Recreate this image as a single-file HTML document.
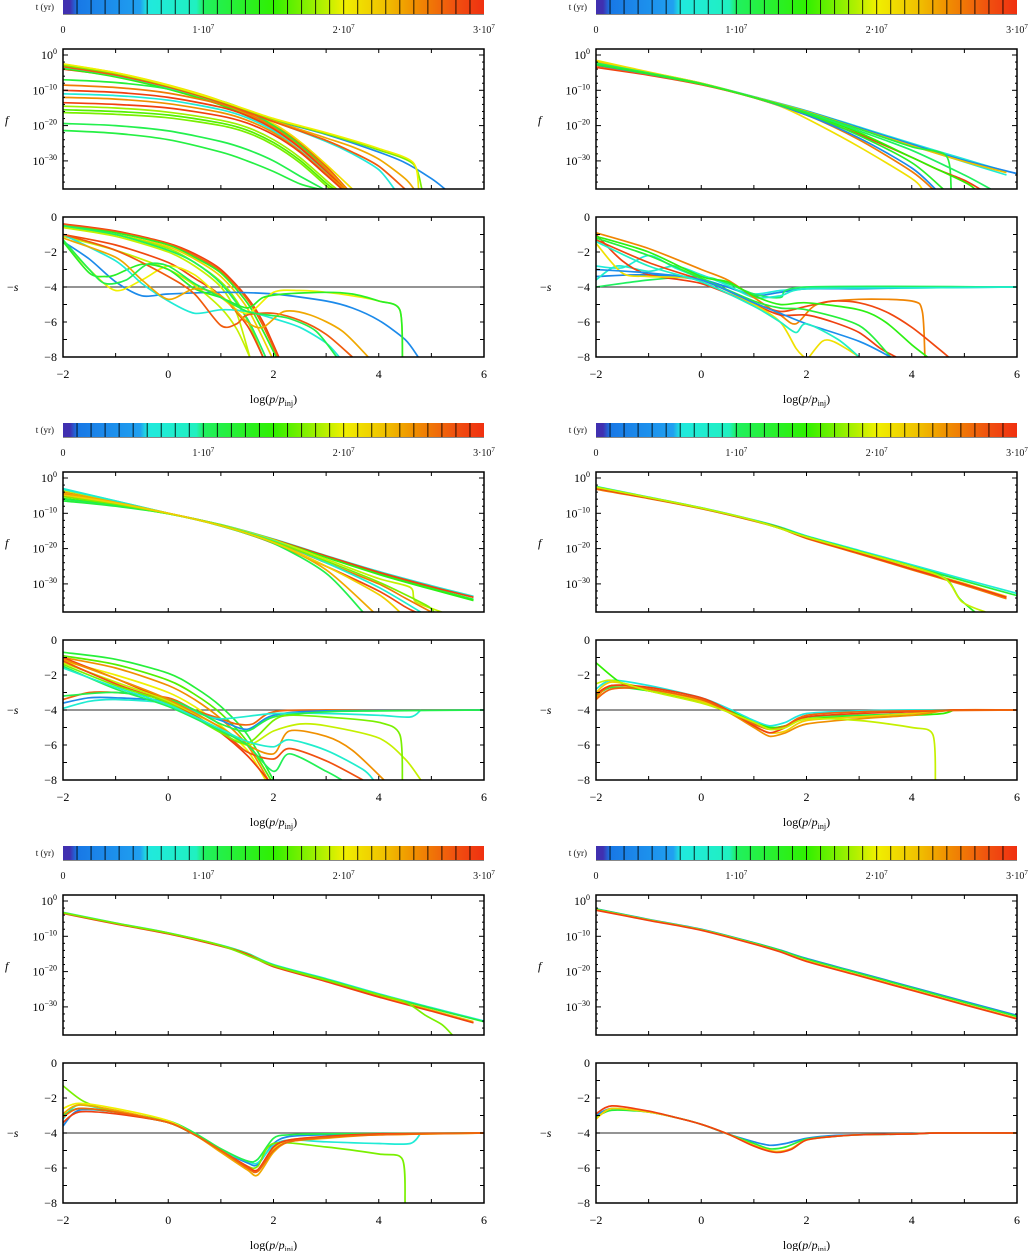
<!DOCTYPE html>
<html><head><meta charset="utf-8">
<style>
html,body{margin:0;padding:0;background:#fff;}
svg{display:block;font-family:"Liberation Serif",serif;}
</style></head>
<body>
<svg id="fig" width="1033" height="1251" viewBox="0 0 1033 1251" xmlns="http://www.w3.org/2000/svg"></svg>
<script>
// ---------- data ----------
const snapshotTimes = [0.1,0.2,0.3,0.4,0.5,0.6,0.7,0.8,0.9,1.0,1.1,1.2,1.3,1.4,1.5,1.6,1.7,1.8,1.9,2.0,2.1,2.2,2.3,2.4,2.5,2.6,2.7,2.8,2.9];
const colorbarTicks = [0,1,2,3];
const colorbarTickLabels = ["0","1·10","2·10","3·10"];
const xTicks = [-2,0,2,4,6];
const fTickExps = [0,-10,-20,-30];
const sTicks = [0,-2,-4,-6,-8];

// Panel A (top-left)
const fA = [
 [2.9,[[-2,-4],[-1,-6],[0,-9.5],[1,-14],[2,-20.5],[2.5,-25.5],[3,-32],[3.35,-38]]],
 [2.7,[[-2,-3.2],[-1,-5.6],[0,-9],[1,-13.5],[2,-20],[2.5,-25],[3,-31.5],[3.4,-38]]],
 [2.4,[[-2,-3.6],[-1,-5.9],[0,-9.3],[1,-13.8],[2,-20.3],[2.5,-25.5],[3,-32.2],[3.38,-38]]],
 [2.1,[[-2,-2.6],[-1,-5],[0,-8.5],[1,-13],[2,-19.5],[2.5,-24.5],[3,-31],[3.5,-38]]],
 [1.4,[[-2,-3.8],[-1,-6.2],[0,-9.7],[1,-14.2],[2,-20.7],[2.5,-26],[3,-32.5],[3.3,-38]]],
 [1.2,[[-2,-7],[-1,-7.8],[0,-9.6],[1,-13],[1.5,-15.8],[2,-20],[2.5,-25.5],[3,-32.5],[3.3,-38]]],
 [2.6,[[-2,-8.5],[-1,-9.2],[0,-10.8],[1,-13.9],[1.5,-16.5],[2,-20.5],[2.5,-26],[3,-32.5],[3.35,-38]]],
 [2.9,[[-2,-10],[-1,-10.6],[0,-12],[1,-14.8],[1.5,-17.2],[2,-21],[2.5,-26.3],[3,-33],[3.35,-38]]],
 [0.7,[[-2,-11],[-1,-11.5],[0,-12.8],[1,-15.5],[1.5,-17.8],[2,-21.5],[2.5,-27],[3,-33.5],[3.3,-38]]],
 [2.5,[[-2,-12],[-1,-12.5],[0,-13.8],[1,-16.3],[1.5,-18.5],[2,-22],[2.5,-27.2],[3,-33.6],[3.35,-38]]],
 [2.9,[[-2,-13.5],[-1,-14],[0,-15],[1,-17.3],[1.5,-19.3],[2,-22.6],[2.5,-27.5],[3,-34],[3.3,-38]]],
 [1.8,[[-2,-14.5],[-1,-15],[0,-16.2],[1,-18.5],[1.5,-20.5],[2,-24],[2.5,-29],[3,-35.5],[3.2,-38]]],
 [1.6,[[-2,-15.5],[-1,-16],[0,-17],[1,-19.3],[1.5,-21.3],[2,-24.8],[2.5,-29.8],[3,-36.3],[3.15,-38]]],
 [1.7,[[-2,-16.3],[-1,-16.8],[0,-17.8],[1,-20],[1.5,-22],[2,-25.5],[2.5,-30.5],[3,-37],[3.1,-38]]],
 [1.1,[[-2,-19.4],[-1,-20],[0,-21.5],[1,-24.5],[1.5,-26.8],[2,-30],[2.5,-34.3],[2.95,-38]]],
 [1.15,[[-2,-21.4],[-1,-22.2],[0,-24],[1,-27.5],[1.5,-30],[2,-33],[2.5,-36.5],[2.87,-38]]],
 [0.3,[[-2,-3],[-1,-5.5],[0,-9],[1,-13.2],[2,-18.4],[3,-22.5],[4,-27.5],[4.5,-30.5],[5,-35],[5.26,-38]]],
 [0.65,[[-2,-3.4],[-1,-5.8],[0,-9.2],[1,-13.5],[2,-18.8],[3,-24.5],[3.5,-28],[4,-32.5],[4.3,-38]]],
 [2.4,[[-2,-2.8],[-1,-5.3],[0,-8.8],[1,-13.2],[2,-18.6],[3,-23.5],[3.5,-26],[4,-29.5],[4.5,-35],[4.67,-38]]],
 [2.75,[[-2,-3.3],[-1,-5.7],[0,-9.1],[1,-13.5],[2,-18.9],[3,-24.2],[3.5,-27.5],[4,-31.5],[4.5,-38]]],
 [1.7,[[-2,-2.9],[-1,-5.2],[0,-8.7],[1,-13.1],[2,-18.2],[3,-22.3],[4,-26.9],[4.65,-30.8],[4.82,-38]]],
 [2.0,[[-2,-2.5],[-1,-5],[0,-8.6],[1,-13],[2,-18],[3,-22],[4,-26.5],[4.65,-30.4],[4.76,-38]]]
];
const sA = [
 [2.9,[[-2,-0.4],[-1,-0.8],[0,-1.5],[0.5,-2.1],[1,-3],[1.5,-4.6],[1.8,-6],[2.1,-8]]],
 [2.7,[[-2,-0.45],[-1,-0.85],[0,-1.55],[0.5,-2.2],[1,-3.1],[1.5,-4.7],[1.8,-6.2],[2.08,-8]]],
 [1.3,[[-2,-0.5],[-1,-0.9],[0,-1.6],[0.5,-2.3],[1,-3.2],[1.5,-4.9],[1.8,-6.5],[2.05,-8]]],
 [2.2,[[-2,-0.6],[-1,-1],[0,-1.7],[0.5,-2.4],[1,-3.4],[1.5,-5.2],[1.97,-8]]],
 [1.8,[[-2,-0.55],[-1,-1],[0,-1.8],[0.5,-2.6],[1,-3.7],[1.3,-4.8],[1.55,-6.2],[1.8,-8]]],
 [1.9,[[-2,-0.6],[-1,-1.1],[0,-2],[0.5,-2.8],[1,-4],[1.3,-5.5],[1.55,-8]]],
 [1.0,[[-2,-0.5],[-1,-1],[0,-1.9],[0.5,-2.6],[1,-3.8],[1.5,-5.8],[1.85,-8]]],
 [2.85,[[-2,-1],[-1,-1.6],[0,-2.6],[0.5,-3.5],[1,-4.5],[1.5,-6.2],[1.8,-8]]],
 [1.9,[[-2,-1.1],[-1,-1.9],[0,-3],[0.5,-3.9],[1,-5.2],[1.3,-6.4],[1.55,-8]]],
 [0.3,[[-2,-1.4],[-1.5,-2.4],[-1,-3.7],[-0.5,-4.5],[0,-4.4],[1,-4.3],[2,-4.4],[3,-4.8],[3.5,-5.2],[4,-5.9],[4.5,-7],[4.75,-8]]],
 [2.0,[[-2,-1.4],[-1.5,-3],[-1,-4.2],[-0.5,-3.6],[0,-2.8],[0.5,-3.3],[1,-4.6],[1.5,-5.5],[2,-4.3],[2.5,-4.2],[3,-4.3],[3.5,-4.5],[4,-4.8],[4.4,-5.3],[4.45,-8]]],
 [1.3,[[-2,-1.4],[-1.5,-3.2],[-1.2,-3.4],[-1,-3.3],[-0.5,-2.7],[0,-3],[0.5,-4.1],[1,-4.6],[1.5,-5.2],[1.8,-4.6],[2.2,-4.4],[3,-4.3],[3.5,-4.4],[4,-4.8],[4.4,-5.3],[4.45,-8]]],
 [0.7,[[-2,-1],[-1,-2.5],[-0.5,-3.8],[0,-4.8],[0.5,-5.5],[1,-5.3],[1.5,-5.4],[2,-5.8],[2.5,-6.3],[3,-7.2],[3.25,-8]]],
 [2.75,[[-2,-1],[-1,-1.9],[0,-3.4],[0.5,-4.4],[1,-6.2],[1.3,-6.1],[1.5,-5.6],[2,-5.5],[2.5,-5.9],[3,-6.7],[3.5,-8]]],
 [2.4,[[-2,-1.2],[-1,-2.3],[-0.5,-3.6],[0,-4.7],[0.5,-4.1],[1,-4.5],[1.5,-6],[1.8,-6.3],[2.2,-5.4],[2.7,-5.6],[3.3,-6.5],[3.8,-8]]],
 [1.1,[[-2,-1.3],[-1.5,-3],[-1.2,-3.8],[-0.8,-3.6],[-0.4,-2.7],[0,-2.8],[0.5,-3.8],[1,-4.6],[1.5,-5.4],[1.9,-5.6],[2.3,-5.8],[2.8,-6.5],[3.2,-8]]]
];

// Panel B (top-right)
const fB = [
 [0.65,[[-2,-2],[-1,-5],[0,-8],[1,-11.8],[2,-15.8],[3,-20.4],[4,-25],[5,-29.5],[5.8,-33]]],
 [0.75,[[-2,-2.2],[-1,-5.1],[0,-8.1],[1,-11.9],[2,-16],[3,-20.8],[4,-25.6],[5,-30.3],[5.8,-34]]],
 [0.25,[[-2,-2.4],[-1,-5.2],[0,-8.1],[1,-11.9],[2,-15.9],[3,-20.6],[4,-25.3],[5,-29.9],[6,-33.6]]],
 [2.3,[[-2,-1.8],[-1,-4.9],[0,-8],[1,-11.9],[2,-16],[3,-20.9],[4,-25.7],[5,-30.2],[5.8,-33.3]]],
 [1.2,[[-2,-2.5],[-1,-5.2],[0,-8.2],[1,-12],[2,-16.2],[3,-21],[4,-26],[4.65,-28.5],[4.75,-38]]],
 [2.9,[[-2,-3.5],[-1,-5.7],[0,-8.4],[1,-12.1],[2,-17],[3,-22.5],[4,-29],[4.5,-32.5],[5,-35.5],[5.3,-38]]],
 [2.6,[[-2,-3],[-1,-5.5],[0,-8.3],[1,-12.1],[2,-17],[3,-24],[4,-33],[4.4,-38]]],
 [2.1,[[-2,-1.5],[-1,-4.8],[0,-8],[1,-12],[1.5,-14.5],[2,-18],[3,-26],[4,-35],[4.2,-38]]],
 [0.3,[[-2,-2.8],[-1,-5.4],[0,-8.2],[1,-12],[2,-17],[3,-23.5],[4,-32],[4.45,-38]]],
 [1.5,[[-2,-2.6],[-1,-5.3],[0,-8.2],[1,-12],[2,-16.5],[3,-22],[4,-29],[5,-36],[5.2,-38]]],
 [1.0,[[-2,-2.3],[-1,-5.1],[0,-8.1],[1,-12],[2,-16.3],[3,-21.5],[4,-27],[5,-34],[5.5,-38]]],
 [1.3,[[-2,-2.7],[-1,-5.3],[0,-8.2],[1,-12],[2,-16.6],[3,-22.8],[4,-30.5],[4.6,-38]]]
];
const sB = [
 [0.65,[[-2,-2.8],[-1.5,-2.9],[-1,-2.2],[-0.5,-2.9],[0,-3.5],[0.5,-4],[1,-4.4],[1.5,-4.2],[2,-4.1],[3,-4.05],[4,-4],[6,-4]]],
 [0.25,[[-2,-3.4],[-1,-3.3],[0,-3.6],[0.5,-4],[1,-4.5],[1.5,-4.3],[2,-4.1],[3,-4.1],[4,-4.05],[6,-4]]],
 [1.0,[[-2,-4],[-1,-3.6],[0,-3.4],[0.5,-3.8],[1,-4.4],[1.5,-4.6],[2,-4.0],[6,-4]]],
 [0.8,[[-2,-3.6],[-1.6,-2.8],[-1,-3.1],[-0.5,-2.8],[0,-3.3],[0.5,-3.9],[1,-4.6],[1.5,-4.5],[2,-4.1],[4,-4.05],[6,-4]]],
 [2.55,[[-2,-0.9],[-1,-1.8],[0,-3],[0.5,-3.6],[1,-4.6],[1.5,-5.6],[1.8,-6.1],[2.2,-5],[3,-4.7],[4,-4.8],[4.2,-5.4],[4.25,-8]]],
 [2.85,[[-2,-1.3],[-1,-2.6],[0,-3.6],[0.5,-4.2],[1,-4.9],[1.5,-5.4],[2,-5.1],[2.5,-4.8],[3,-4.9],[3.5,-5.4],[4,-6.3],[4.5,-7.5],[4.7,-8]]],
 [2.9,[[-2,-1],[-1.5,-2.5],[-1,-3.3],[0,-3.8],[1,-5],[1.5,-5.6],[2,-5.6],[2.5,-6],[3,-6.6],[3.4,-7.5],[3.7,-8]]],
 [2.1,[[-2,-1.5],[-1.5,-3.2],[-1,-3.4],[0,-3.6],[1,-5],[1.5,-6],[1.8,-7.5],[1.95,-8]]],
 [2.1,[[2.05,-8],[2.3,-7.1],[2.5,-7.1],[2.8,-7.6],[3,-8]]],
 [1.4,[[-2,-1.1],[-1,-2],[0,-3.4],[0.5,-3.7],[1,-4.5],[1.5,-5],[2,-4.9],[3,-5.3],[3.5,-6],[4,-7.3],[4.3,-8]]],
 [1.2,[[-2,-1.2],[-1,-2.2],[0,-3.5],[1,-4.8],[1.5,-5.2],[2,-5.3],[3,-6.2],[3.6,-8]]],
 [0.35,[[-2,-3],[-1,-3.2],[0,-3.6],[1,-4.9],[1.5,-5.5],[2,-6.1],[3,-7.1],[3.6,-8]]],
 [0.9,[[-2,-1.4],[-1,-2.8],[0,-3.7],[1,-5.1],[1.5,-6],[1.8,-6.6],[2,-6.1],[2.6,-7],[3,-8]]]
];

// Panel C (middle-left)
const fC = [
 [0.7,[[-2,-3],[-1,-6.5],[0,-10],[1,-13.2],[2,-17.3],[3,-22],[4,-26.5],[5,-30.5],[5.8,-33.5]]],
 [1.2,[[-2,-6.5],[-1,-8],[0,-10.1],[1,-13.3],[2,-17.5],[3,-22.3],[4,-27],[5,-31.2],[5.8,-34.4]]],
 [2.9,[[-2,-5],[-1,-7.2],[0,-10],[1,-13.3],[2,-17.4],[3,-22.1],[4,-26.7],[5,-30.8],[5.8,-33.8]]],
 [1.4,[[-2,-5.8],[-1,-7.7],[0,-10.1],[1,-13.3],[2,-17.6],[3,-22.5],[4,-27.3],[5,-31.5],[5.8,-34.7]]],
 [2.85,[[-2,-4.5],[-1,-7],[0,-10],[1,-13.5],[2,-18.5],[3,-25],[4,-32],[4.5,-36.5],[4.7,-38]]],
 [2.6,[[-2,-4],[-1,-6.8],[0,-10],[1,-13.4],[2,-18],[3,-24],[4,-30],[4.5,-34],[5,-38]]],
 [1.1,[[-2,-6],[-1,-7.8],[0,-10.1],[1,-13.6],[2,-18.5],[3,-27],[3.7,-38]]],
 [1.9,[[-2,-3.5],[-1,-6.6],[0,-10],[1,-13.3],[2,-17.5],[3,-23],[4,-28.5],[4.6,-31],[4.7,-35],[5.2,-38]]],
 [0.8,[[-2,-3.2],[-1,-6.5],[0,-10],[1,-13.4],[2,-17.8],[3,-24],[4,-31],[4.8,-38]]],
 [2.4,[[-2,-4.2],[-1,-6.9],[0,-10],[1,-13.5],[2,-18.2],[3,-26],[3.9,-38]]],
 [1.7,[[-2,-5.3],[-1,-7.4],[0,-10.1],[1,-13.4],[2,-18],[3,-23.5],[4,-29.5],[4.9,-36],[5.05,-38]]],
 [2.2,[[-2,-4.8],[-1,-7.1],[0,-10],[1,-13.5],[2,-18.3],[3,-25],[4,-33],[4.4,-38]]]
];
const sC = [
 [1.2,[[-2,-0.7],[-1,-1.1],[0,-1.9],[0.5,-2.7],[1,-3.8],[1.5,-5.4],[2,-8]]],
 [1.6,[[-2,-0.9],[-1,-1.4],[0,-2.3],[0.5,-3.1],[1,-4.2],[1.5,-5.8],[1.95,-8]]],
 [2.5,[[-2,-1],[-1,-1.6],[0,-2.6],[0.5,-3.4],[1,-4.5],[1.5,-6],[1.9,-8]]],
 [2.0,[[-2,-1.2],[-1,-2],[0,-3],[0.5,-3.8],[1,-4.9],[1.5,-6.3],[1.85,-8]]],
 [2.9,[[-2,-1],[-1,-2.2],[0,-3.5],[0.5,-4.3],[1,-5.3],[1.5,-6.6],[1.9,-8]]],
 [2.7,[[-2,-3.4],[-1.5,-3],[-1,-3],[0,-3.3],[0.5,-4],[1,-4.5],[1.3,-4.8],[1.6,-4.8],[2,-4.1],[3,-4],[6,-4]]],
 [0.3,[[-2,-3.6],[-1.5,-3.3],[-1,-3.3],[0,-3.5],[0.5,-4.1],[1,-4.6],[1.5,-5.1],[2,-4.3],[3,-4.05],[6,-4]]],
 [0.75,[[-2,-3.9],[-1.5,-3.5],[-1,-3.4],[0,-3.6],[0.5,-4.1],[1,-4.5],[2,-4.2],[3,-4.2],[4,-4.3],[4.6,-4.4],[4.8,-4]]],
 [1.1,[[-2,-3.2],[-1,-3],[0,-3.4],[0.5,-4],[1,-4.8],[1.5,-5.2],[2,-4.4],[3,-4.1],[4,-4.05],[6,-4]]],
 [1.9,[[-2,-1.3],[-1,-2.4],[0,-3.5],[1,-5],[1.5,-6],[2,-5.2],[2.5,-4.8],[3,-4.9],[4,-5.6],[4.5,-6.8],[4.8,-8]]],
 [2.5,[[-2,-1.1],[-1,-2.2],[0,-3.4],[1,-5],[1.5,-6],[2,-6.5],[2.3,-5.2],[3,-5.5],[3.5,-6.3],[4.1,-8]]],
 [2.8,[[-2,-1.2],[-1,-2.5],[0,-3.6],[1,-5.2],[1.5,-6.4],[2,-6.8],[2.3,-6.2],[3,-6.9],[3.7,-8]]],
 [1.7,[[-2,-1.4],[-1,-2.6],[0,-3.6],[1,-5.3],[1.5,-5.9],[2,-4.6],[2.3,-4.3],[3,-4.4],[4,-4.7],[4.4,-5.4],[4.45,-8]]],
 [1.05,[[-2,-1.5],[-1,-2.8],[0,-3.8],[1,-5.2],[1.5,-6],[2,-7.5],[2.3,-6.5],[3,-7.5],[3.3,-8]]],
 [0.8,[[-2,-1.6],[-1,-2.7],[0,-3.7],[1,-5.1],[1.5,-5.8],[2,-6.1],[2.3,-5.7],[3,-6.3],[3.7,-7.4],[3.9,-8]]]
];

// Panel D (middle-right)
const fD = [
 [0.7,[[-2,-2.4],[-1,-5.4],[0,-8.4],[1,-11.9],[1.5,-13.9],[2,-16.4],[3,-20.5],[4,-24.6],[5,-28.7],[6,-32.7]]],
 [1.2,[[-2,-2.6],[-1,-5.5],[0,-8.5],[1,-12],[1.5,-14],[2,-16.6],[3,-20.8],[4,-25],[5,-29.2],[6,-33.3]]],
 [2.3,[[-2,-2.8],[-1,-5.6],[0,-8.6],[1,-12.1],[1.5,-14.2],[2,-16.9],[3,-21.2],[4,-25.6],[5,-29.9],[5.8,-33.6]]],
 [2.6,[[-2,-3.2],[-1,-5.8],[0,-8.7],[1,-12.2],[1.5,-14.3],[2,-17.1],[3,-21.5],[4,-26],[5,-30.4],[5.8,-34.2]]],
 [2.9,[[-2,-2.9],[-1,-5.7],[0,-8.6],[1,-12.1],[1.5,-14.2],[2,-17],[3,-21.3],[4,-25.8],[5,-30.1],[5.8,-33.8]]],
 [1.3,[[-2,-2.5],[-1,-5.5],[0,-8.5],[1,-12],[2,-16.6],[3,-20.8],[4,-25],[4.65,-28.6],[4.9,-34],[5.2,-38]]],
 [1.9,[[-2,-2.6],[-1,-5.5],[0,-8.5],[1,-12],[2,-16.7],[3,-20.9],[4,-25.1],[4.65,-28.7],[4.95,-35],[5.4,-38]]]
];
const sD = [
 [0.6,[[-2,-2.8],[-1.7,-2.3],[-1,-2.6],[0,-3.3],[0.5,-3.9],[1,-4.6],[1.3,-4.9],[1.6,-4.7],[2,-4.2],[3,-4.05],[4,-4],[6,-4]]],
 [1.2,[[-2,-3.2],[-1.7,-2.7],[-1,-2.9],[0,-3.5],[0.5,-4],[1,-4.7],[1.3,-5],[1.6,-4.9],[2,-4.4],[3,-4.3],[4,-4.2],[4.8,-4],[6,-4]]],
 [1.5,[[-2,-1.3],[-1.5,-2.5],[-1,-2.9],[0,-3.5],[0.5,-4],[1,-4.7],[1.3,-5],[1.6,-4.9],[2,-4.5],[3,-4.4],[4,-4.3],[4.6,-4.2],[4.8,-4]]],
 [2.2,[[-2,-3],[-1.7,-2.4],[-1,-2.8],[0,-3.5],[0.5,-4.1],[1,-4.9],[1.3,-5.3],[1.6,-5.2],[2,-4.6],[3,-4.4],[4,-4.2],[4.8,-4],[6,-4]]],
 [2.5,[[-2,-3.3],[-1.7,-2.6],[-1,-2.8],[0,-3.4],[0.5,-4.1],[1,-5],[1.3,-5.5],[1.6,-5.3],[2,-4.8],[3,-4.5],[4,-4.3],[4.8,-4],[6,-4]]],
 [2.9,[[-2,-3.1],[-1.7,-2.6],[-1,-2.7],[0,-3.3],[0.5,-4],[1,-4.9],[1.3,-5.3],[1.6,-5],[2,-4.4],[3,-4.2],[4,-4.1],[4.8,-4],[6,-4]]],
 [2.7,[[-2,-3.4],[-1.7,-2.8],[-1,-2.8],[0,-3.4],[0.5,-4.05],[1,-4.8],[1.3,-5.1],[1.6,-4.9],[2,-4.3],[3,-4.1],[4,-4.05],[6,-4]]],
 [1.9,[[-2,-2.5],[-1.7,-2.3],[-1,-2.9],[0,-3.6],[0.5,-4.1],[1,-4.7],[1.3,-5.1],[1.6,-5],[2,-4.5],[3,-4.6],[4,-5],[4.4,-5.4],[4.45,-8]]]
];

// Panel E (bottom-left)
const fE = [
 [0.7,[[-2,-3.2],[-1,-6.2],[0,-9],[1,-12.5],[1.5,-14.8],[2,-18],[3,-22],[4,-26.3],[5,-30.2],[6,-34]]],
 [1.2,[[-2,-3.3],[-1,-6.3],[0,-9.1],[1,-12.6],[1.5,-14.9],[2,-18.2],[3,-22.2],[4,-26.5],[5,-30.4],[6,-34.2]]],
 [2.3,[[-2,-3.4],[-1,-6.4],[0,-9.2],[1,-12.7],[1.5,-15],[2,-18.4],[3,-22.6],[4,-26.9],[5,-30.9],[5.8,-34.2]]],
 [2.9,[[-2,-3.5],[-1,-6.5],[0,-9.3],[1,-12.8],[1.5,-15.1],[2,-18.6],[3,-22.8],[4,-27.2],[5,-31.2],[5.8,-34.5]]],
 [1.7,[[-2,-3.3],[-1,-6.3],[0,-9.1],[1,-12.6],[2,-18.3],[3,-22.4],[4,-26.6],[4.5,-28.6],[4.9,-32.5],[5.2,-35],[5.4,-38]]]
];
const sE = [
 [0.3,[[-2,-3.6],[-1.7,-2.7],[-1,-2.8],[0,-3.4],[0.5,-4.1],[1,-5],[1.5,-5.7],[1.7,-5.8],[2,-4.6],[2.3,-4.2],[3,-4.1],[4,-4.05],[6,-4]]],
 [0.7,[[-2,-3.2],[-1.7,-2.4],[-1,-2.8],[0,-3.4],[0.5,-4.1],[1,-5],[1.5,-5.6],[1.7,-5.7],[2,-4.7],[2.3,-4.4],[3,-4.5],[4,-4.6],[4.6,-4.6],[4.8,-4]]],
 [1.1,[[-2,-3],[-1.7,-2.6],[-1,-2.8],[0,-3.3],[0.5,-4],[1,-4.9],[1.5,-5.6],[1.7,-5.5],[2,-4.3],[2.3,-4.1],[3,-4.05],[6,-4]]],
 [1.7,[[-2,-1.3],[-1.6,-2.2],[-1,-2.8],[0,-3.4],[0.5,-4.1],[1,-5],[1.5,-5.9],[1.7,-5.9],[2,-4.6],[3,-4.8],[4,-5.2],[4.45,-5.5],[4.5,-8]]],
 [2.0,[[-2,-2.6],[-1.7,-2.3],[-1,-2.6],[0,-3.3],[0.5,-4.1],[1,-5],[1.5,-5.9],[1.7,-6.1],[2,-4.9],[2.3,-4.4],[3,-4.2],[4,-4.1],[6,-4]]],
 [2.4,[[-2,-2.9],[-1.7,-2.4],[-1,-2.7],[0,-3.4],[0.5,-4.1],[1,-5.1],[1.5,-6.1],[1.7,-6.4],[2,-5.1],[2.3,-4.5],[3,-4.3],[4,-4.1],[6,-4]]],
 [2.9,[[-2,-3.4],[-1.7,-2.8],[-1,-2.9],[0,-3.4],[0.5,-4.1],[1,-5],[1.5,-5.9],[1.7,-6.1],[2,-4.8],[2.3,-4.4],[3,-4.2],[4,-4.05],[6,-4]]],
 [2.7,[[-2,-3.1],[-1.7,-2.6],[-1,-2.8],[0,-3.4],[0.5,-4.1],[1,-5],[1.5,-6],[1.7,-6.2],[2,-5],[2.3,-4.5],[3,-4.25],[4,-4.1],[6,-4]]]
];

// Panel F (bottom-right)
const fF = [
 [0.3,[[-2,-2.2],[-1,-5.2],[0,-8],[1,-11.8],[1.5,-13.9],[2,-16.3],[3,-20.3],[4,-24.4],[5,-28.4],[6,-32.4]]],
 [1.2,[[-2,-2.3],[-1,-5.3],[0,-8.1],[1,-11.9],[1.5,-14],[2,-16.5],[3,-20.5],[4,-24.6],[5,-28.7],[6,-32.7]]],
 [2.2,[[-2,-2.5],[-1,-5.4],[0,-8.2],[1,-12.1],[1.5,-14.3],[2,-16.9],[3,-21],[4,-25.1],[5,-29.2],[6,-33.2]]],
 [2.9,[[-2,-2.6],[-1,-5.5],[0,-8.3],[1,-12.2],[1.5,-14.4],[2,-17.1],[3,-21.2],[4,-25.3],[5,-29.4],[6,-33.4]]]
];
const sF = [
 [0.3,[[-2,-3],[-1.7,-2.6],[-1,-2.8],[-0.5,-3.1],[0,-3.5],[0.5,-4.05],[1,-4.5],[1.3,-4.7],[1.6,-4.6],[2,-4.3],[2.5,-4.15],[3,-4.1],[4,-4.05],[4.5,-4],[6,-4]]],
 [1.2,[[-2,-3.1],[-1.7,-2.7],[-1,-2.8],[-0.5,-3.1],[0,-3.5],[0.5,-4.05],[1,-4.6],[1.3,-4.9],[1.6,-4.8],[2,-4.35],[2.5,-4.2],[3,-4.1],[4,-4.05],[4.5,-4],[6,-4]]],
 [2.2,[[-2,-3.2],[-1.7,-2.6],[-1,-2.8],[-0.5,-3.1],[0,-3.5],[0.5,-4.05],[1,-4.7],[1.4,-5.05],[1.7,-4.9],[2,-4.4],[2.5,-4.2],[3,-4.1],[4,-4.05],[4.5,-4],[6,-4]]],
 [2.9,[[-2,-2.9],[-1.7,-2.45],[-1,-2.75],[-0.5,-3.1],[0,-3.5],[0.5,-4.05],[1,-4.75],[1.4,-5.1],[1.7,-4.95],[2,-4.4],[2.5,-4.2],[3,-4.1],[4,-4.05],[4.5,-4],[6,-4]]]
];

const panelData = [
 {name:"a", f:fA, s:sA},
 {name:"b", f:fB, s:sB},
 {name:"c", f:fC, s:sC},
 {name:"d", f:fD, s:sD},
 {name:"e", f:fE, s:sE},
 {name:"f", f:fF, s:sF}
];

// ---------- drawing ----------
const NS = "http://www.w3.org/2000/svg";
const svg = document.getElementById("fig");
function el(tag, attrs, parent){
  const e = document.createElementNS(NS, tag);
  for (const k in attrs) e.setAttribute(k, attrs[k]);
  (parent||svg).appendChild(e);
  return e;
}
const cmapStops = [[0,[64,48,176]],[0.095,[64,48,176]],[0.1,[24,120,230]],[0.55,[32,160,240]],[0.58,[32,232,224]],[0.95,[32,240,192]],[1.0,[32,240,96]],[1.5,[48,240,0]],[1.85,[176,240,0]],[2.0,[240,240,0]],[2.3,[240,192,0]],[2.5,[240,144,0]],[2.8,[240,80,16]],[3.0,[240,48,16]]];
function cmap(t){
  for (let i=1;i<cmapStops.length;i++){
    if (t<=cmapStops[i][0]){
      const a=cmapStops[i-1], b=cmapStops[i];
      const u=(t-a[0])/((b[0]-a[0])||1);
      const c=a[1].map((v,j)=>Math.round(v+(b[1][j]-v)*u));
      return "rgb("+c.join(",")+")";
    }
  }
  return "rgb(240,48,16)";
}
function smoothPath(P){
  let d = "M"+P[0][0].toFixed(1)+","+P[0][1].toFixed(1);
  for (let i=0;i<P.length-1;i++){
    const p0=P[Math.max(0,i-1)], p1=P[i], p2=P[i+1], p3=P[Math.min(P.length-1,i+2)];
    const k=1/7;
    const c1=[p1[0]+(p2[0]-p0[0])*k, p1[1]+(p2[1]-p0[1])*k];
    const c2=[p2[0]-(p3[0]-p1[0])*k, p2[1]-(p3[1]-p1[1])*k];
    d += " C"+c1[0].toFixed(1)+","+c1[1].toFixed(1)+" "+c2[0].toFixed(1)+","+c2[1].toFixed(1)+" "+p2[0].toFixed(1)+","+p2[1].toFixed(1);
  }
  return d;
}

const W = 421;
const colX = [63, 596];
const rowY = [0, 423, 846];
const F_TOP=49, F_BOT=189, F_MAX=1.7, F_MIN=-37.96;
const S_TOP=217, S_BOT=357, S_MAX=0, S_MIN=-8;

const defs = el("defs",{});
const grad = el("linearGradient",{id:"cbgrad",x1:"0",x2:"1",y1:"0",y2:"0"},defs);
for (let i=0;i<=60;i++){
  const t=3*i/60;
  el("stop",{offset:(i/60).toFixed(4),"stop-color":cmap(t)},grad);
}

panelData.forEach((pd, idx)=>{
  const col = idx%2, row = Math.floor(idx/2);
  const x0 = colX[col], oy = rowY[row];
  const xs = v => x0 + (v+2)/8*W;
  const yf = v => oy + F_TOP + (F_MAX - v)/(F_MAX-F_MIN)*(F_BOT-F_TOP);
  const ys = v => oy + S_TOP + (S_MAX - v)/(S_MAX-S_MIN)*(S_BOT-S_TOP);
  const g = el("g",{});
  
  

  const cb = el("g",{},g);
  
  
  el("rect",{x:x0,y:oy,width:W,height:14,fill:"url(#cbgrad)"},cb);
  snapshotTimes.forEach(t=>{
    const ln = el("line",{x1:x0+t/3*W,x2:x0+t/3*W,y1:oy,y2:oy+14,stroke:"#000","stroke-width":1,"stroke-opacity":0.85},cb);
    
    
  });
  el("line",{x1:x0,x2:x0+W,y1:oy+14.5,y2:oy+14.5,stroke:"#888","stroke-width":1},cb);
  const tl = el("text",{x:x0-9,y:oy+10,"font-size":9,"text-anchor":"end",fill:"#111"},cb);
  tl.textContent="t (yr)";
  
  
  colorbarTicks.forEach((t,i)=>{
    const tx = el("text",{x:x0+t/3*W,y:oy+33,"font-size":10,"text-anchor":"middle",fill:"#111"},cb);
    tx.textContent = colorbarTickLabels[i];
    if (t>0){ const sup=el("tspan",{dy:-4,"font-size":7},tx); sup.textContent="7"; }
    
    
  });

  const cf = el("clipPath",{id:"cf"+idx},defs); el("rect",{x:x0,y:oy+F_TOP,width:W,height:F_BOT-F_TOP},cf);
  const cs = el("clipPath",{id:"cs"+idx},defs); el("rect",{x:x0,y:oy+S_TOP,width:W,height:S_BOT-S_TOP},cs);

  const fg = el("g",{"clip-path":"url(#cf"+idx+")"},g);
  
  
  pd.f.forEach(c=>{
    const p = el("path",{d:smoothPath(c[1].map(q=>[xs(q[0]),yf(q[1])])),fill:"none",stroke:cmap(c[0]),"stroke-width":1.7,"stroke-linejoin":"round"},fg);
    
    
  });
  const sg = el("g",{"clip-path":"url(#cs"+idx+")"},g);
  
  
  const ref = el("line",{x1:x0,x2:x0+W,y1:ys(-4),y2:ys(-4),stroke:"#555","stroke-width":1.2},sg);
  
  
  pd.s.forEach(c=>{
    const p = el("path",{d:smoothPath(c[1].map(q=>[xs(q[0]),ys(q[1])])),fill:"none",stroke:cmap(c[0]),"stroke-width":1.7,"stroke-linejoin":"round"},sg);
    
    
  });

  [[oy+F_TOP,oy+F_BOT,'f-frame'],[oy+S_TOP,oy+S_BOT,'s-frame']].forEach(fr=>{
    const r = el("rect",{x:x0,y:fr[0],width:W,height:fr[1]-fr[0],fill:"none",stroke:"#000","stroke-width":1.5},g);
    
    
    for (let v=-2; v<=6; v++){
      el("line",{x1:xs(v),x2:xs(v),y1:fr[0],y2:fr[0]+4,stroke:"#000","stroke-width":1},g);
      el("line",{x1:xs(v),x2:xs(v),y1:fr[1],y2:fr[1]-4,stroke:"#000","stroke-width":1},g);
    }
  });
  for (let v=-36; v<=0; v+=2){
    const major = v%10===0;
    const L = major?5:2;
    el("line",{x1:x0,x2:x0+L,y1:yf(v),y2:yf(v),stroke:"#000","stroke-width":1},g);
    el("line",{x1:x0+W,x2:x0+W-L,y1:yf(v),y2:yf(v),stroke:"#000","stroke-width":1},g);
  }
  for (let v=-8; v<=0; v++){
    el("line",{x1:x0,x2:x0+4,y1:ys(v),y2:ys(v),stroke:"#000","stroke-width":1},g);
    el("line",{x1:x0+W,x2:x0+W-4,y1:ys(v),y2:ys(v),stroke:"#000","stroke-width":1},g);
  }
  fTickExps.forEach(e=>{
    const t = el("text",{x:x0-6,y:yf(e)+4,"font-size":12,"text-anchor":"end",fill:"#000"},g);
    const base = el("tspan",{},t); base.textContent="10";
    const sup = el("tspan",{dy:-5,"font-size":8},t); sup.textContent = e===0?"0":"−"+(-e);
    
    
  });
  const fl = el("text",{x:x0-58,y:oy+124,"font-size":12,"font-style":"italic",fill:"#000"},g);
  fl.textContent="f";
  
  
  sTicks.forEach(v=>{
    const t = el("text",{x:x0-6,y:ys(v)+4,"font-size":12,"text-anchor":"end",fill:"#000"},g);
    t.textContent = v===0?"0":"−"+(-v);
    
    
  });
  const sl = el("text",{x:x0-56,y:oy+291,"font-size":12,fill:"#000"},g);
  sl.textContent="−";
  const si = el("tspan",{"font-style":"italic"},sl); si.textContent="s";
  
  
  xTicks.forEach(v=>{
    const t = el("text",{x:xs(v),y:oy+378,"font-size":12,"text-anchor":"middle",fill:"#000"},g);
    t.textContent = v<0?"−"+(-v):String(v);
    
    
  });
  const xl = el("text",{x:x0+W/2,y:oy+403,"font-size":12,"text-anchor":"middle",fill:"#000"},g);
  
  
  const a1=el("tspan",{},xl); a1.textContent="log(";
  const a2=el("tspan",{"font-style":"italic"},xl); a2.textContent="p";
  const a3=el("tspan",{},xl); a3.textContent="/";
  const a4=el("tspan",{"font-style":"italic"},xl); a4.textContent="p";
  const a5=el("tspan",{dy:3,"font-size":8},xl); a5.textContent="inj";
  const a6=el("tspan",{dy:-3},xl); a6.textContent=")";
});
</script>
</body></html>
